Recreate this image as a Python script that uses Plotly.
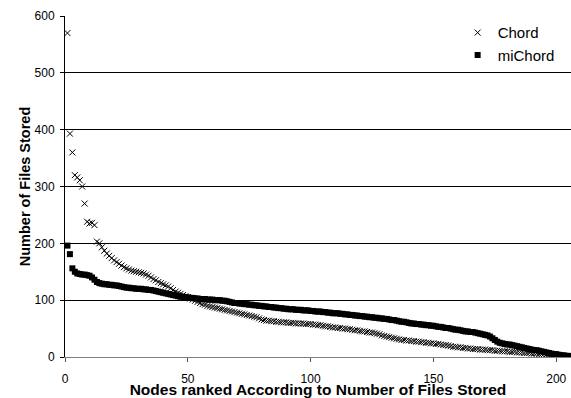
import plotly.graph_objects as go

nodes = list(range(1, 207))

chord = [
    570, 393, 360, 320, 316, 311, 300, 270, 238, 235,
    236, 232, 203, 200, 193, 187, 182, 178, 174, 170,
    167, 164, 161, 158, 156, 154, 152, 151, 150, 149,
    148, 147, 145, 143, 140, 137, 135, 132, 130, 128,
    126, 124, 121, 118, 115, 113, 111, 109, 107, 105,
    103, 101, 99, 97, 95, 93, 92, 90, 89, 88,
    87, 86, 85, 84, 83, 82, 81, 80, 79, 78,
    77, 76, 75, 74, 73, 72, 71, 70, 68, 66,
    65, 64, 64, 63, 63, 62, 62, 61, 61, 61,
    60, 60, 60, 59, 59, 59, 59, 58, 58, 58,
    57, 57, 56, 56, 55, 54, 54, 53, 52, 52,
    51, 51, 50, 50, 49, 49, 48, 47, 47, 46,
    45, 45, 44, 43, 43, 42, 41, 40, 38, 37,
    36, 35, 34, 33, 32, 31, 30, 30, 29, 29,
    28, 28, 27, 27, 26, 26, 25, 25, 24, 24,
    23, 23, 22, 21, 21, 20, 19, 18, 18, 17,
    17, 16, 16, 15, 15, 14, 14, 14, 13, 13,
    13, 12, 12, 12, 11, 11, 11, 10, 10, 10,
    9, 9, 9, 8, 8, 8, 7, 7, 7, 6,
    6, 6, 5, 5, 5, 4, 4, 4, 3, 3,
    3, 2, 2, 1, 1, 1,
]

michord = [
    196, 181, 156, 150, 147, 146, 145, 145, 144, 143,
    140, 136, 132, 130, 129, 128, 128, 127, 127, 126,
    126, 125, 124, 123, 122, 122, 121, 121, 120, 120,
    120, 119, 119, 118, 118, 117, 116, 115, 114, 113,
    112, 111, 110, 109, 108, 107, 106, 106, 105, 105,
    104, 104, 103, 103, 102, 102, 102, 101, 101, 101,
    100, 100, 100, 99, 99, 98, 97, 96, 95, 95,
    94, 94, 93, 93, 92, 92, 91, 91, 90, 90,
    89, 89, 88, 88, 87, 87, 86, 86, 85, 85,
    84, 84, 84, 83, 83, 83, 82, 82, 82, 81,
    81, 80, 80, 80, 79, 79, 78, 78, 77, 77,
    77, 76, 76, 75, 75, 74, 74, 73, 73, 72,
    72, 71, 71, 70, 70, 69, 69, 68, 68, 67,
    67, 66, 65, 65, 64, 63, 62, 62, 61, 60,
    59, 59, 58, 58, 57, 57, 56, 56, 55, 55,
    54, 53, 53, 52, 51, 51, 50, 49, 48, 48,
    47, 46, 45, 45, 44, 44, 43, 42, 41, 40,
    39, 38, 36, 33, 30, 27, 25, 24, 23, 22,
    22, 21, 20, 19, 18, 17, 16, 15, 14, 13,
    12, 12, 11, 10, 9, 8, 7, 6, 5, 5,
    4, 3, 3, 2, 2, 1,
]

x_ticks = [0, 50, 100, 150, 200]
y_ticks = [0, 100, 200, 300, 400, 500, 600]

FONT = "Liberation Sans, Arial, sans-serif"

fig = go.Figure()
fig.add_trace(go.Scatter(
    x=nodes, y=chord, mode="markers", name="Chord",
    marker=dict(symbol="x-thin", size=6, color="black",
                line=dict(color="black", width=1)),
))
fig.add_trace(go.Scatter(
    x=nodes, y=michord, mode="markers", name="miChord",
    marker=dict(symbol="square", size=6, color="black", line=dict(width=0)),
))

fig.update_layout(
    width=571, height=398,
    margin=dict(l=65, r=0, t=16, b=41, autoexpand=False),
    paper_bgcolor="white", plot_bgcolor="white",
    font=dict(family=FONT, size=12, color="black"),
    legend=dict(x=0.776, y=0.999, xanchor="left", yanchor="top",
                bgcolor="rgba(0,0,0,0)", font=dict(size=15),
                itemwidth=30, tracegroupgap=0),
    xaxis=dict(
        range=[0, 206], tickvals=x_ticks, showgrid=False, zeroline=False,
        showline=True, linecolor="#808080", linewidth=1, automargin=True,
        ticks="outside", ticklen=4, tickcolor="#555555",
        ticklabelstandoff=7,
        title=dict(text="<b>Nodes ranked According to Number of Files Stored</b>",
                   font=dict(size=15.5), standoff=4),
    ),
    yaxis=dict(
        range=[0, 600], tickvals=y_ticks, showgrid=True, gridcolor="black",
        gridwidth=1, zeroline=False, showline=True, linecolor="black",
        linewidth=1, automargin=False, ticks="outside", ticklen=4,
        tickcolor="black", ticklabelstandoff=3,
        title=dict(text="<b>Number of Files Stored</b>", font=dict(size=14.5),
                   standoff=0),
    ),
)

fig.write_html("out.html")
